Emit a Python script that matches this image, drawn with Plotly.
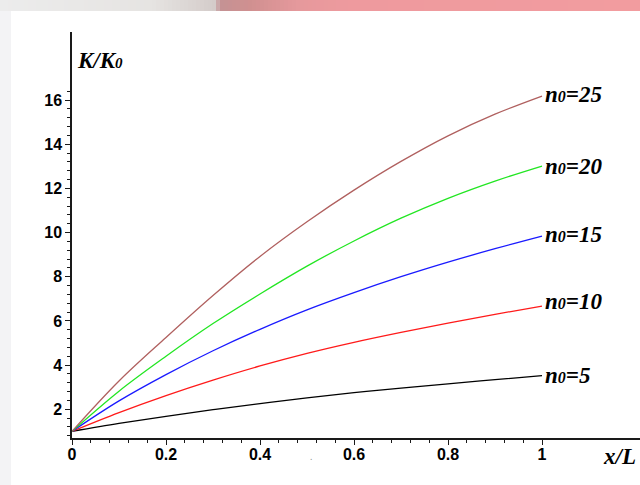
import plotly.graph_objects as go

# ---- data ----
x_frac = [0.0, 0.1, 0.2, 0.3, 0.4, 0.5, 0.6, 0.7, 0.8, 0.9, 1.0]
k_n5 = [1.0, 1.36, 1.68, 1.98, 2.26, 2.52, 2.75, 2.96, 3.15, 3.34, 3.52]
k_n10 = [1.0, 1.85, 2.62, 3.32, 3.96, 4.53, 5.03, 5.48, 5.90, 6.30, 6.67]
k_n15 = [1.0, 2.38, 3.57, 4.65, 5.62, 6.50, 7.28, 8.00, 8.66, 9.27, 9.84]
k_n20 = [1.0, 2.82, 4.40, 5.88, 7.22, 8.48, 9.62, 10.65, 11.55, 12.33, 13.01]
k_n25 = [1.0, 3.28, 5.25, 7.15, 8.92, 10.49, 11.92, 13.22, 14.38, 15.36, 16.18]

n0_values = ["5", "10", "15", "20", "25"]
label_y = [3.51, 6.90, 9.89, 12.98, 16.23]
colors = ["#000000", "#ff1a1a", "#1a1aff", "#22e622", "#b0605f"]
series = [k_n5, k_n10, k_n15, k_n20, k_n25]

x_ticks = [0, 0.2, 0.4, 0.6, 0.8, 1.0]
x_ticktext = ["0", "0.2", "0.4", "0.6", "0.8", "1"]
y_ticks = [2, 4, 6, 8, 10, 12, 14, 16]
y_ticktext = ["2", "4", "6", "8", "10", "12", "14", "16"]

# ---- layout geometry (pixels) ----
W, H = 640, 485
L, R, T, B = 72, 0, 32, 47
PW, PH = W - L - R, H - T - B
X_PX_PER_UNIT = 470.0
Y_PX_PER_UNIT = 22.09
x_max = PW / X_PX_PER_UNIT
y_min = 0.70
y_max = y_min + PH / Y_PX_PER_UNIT


def px_to_paper_x(px):
    return (px - L) / PW


def py_to_paper_y(py):
    return (H - B - py) / PH


SERIF = "Liberation Serif, Times New Roman, serif"

fig = go.Figure()
for n0, ys, col in zip(n0_values, series, colors):
    fig.add_trace(go.Scatter(x=x_frac, y=ys, mode="lines", name="n0=" + n0,
                             line=dict(color=col, width=1.3, shape="spline", smoothing=1.0),
                             showlegend=False, hoverinfo="skip"))

shapes = []
# top decorative band (gradient approximation)
stops = [(0, (236, 236, 236)), (150, (230, 228, 226)), (215, (212, 204, 202)),
         (220, (196, 146, 148)), (250, (208, 144, 144)), (300, (230, 153, 156)),
         (350, (238, 154, 158)), (640, (242, 156, 159))]


def col_at(px):
    for (a, ca), (b, cb) in zip(stops[:-1], stops[1:]):
        if a <= px <= b:
            t = (px - a) / (b - a) if b > a else 0
            return tuple(int(round(ca[i] + (cb[i] - ca[i]) * t)) for i in range(3))
    return stops[-1][1]


step = 4
for px in range(0, W, step):
    c = col_at(px + step / 2)
    shapes.append(dict(type="rect", xref="paper", yref="paper",
                       x0=px_to_paper_x(px), x1=px_to_paper_x(px + step + 0.5),
                       y0=py_to_paper_y(11), y1=py_to_paper_y(0),
                       fillcolor="rgb(%d,%d,%d)" % c, line=dict(width=0), layer="below"))
# left strip
shapes.append(dict(type="rect", xref="paper", yref="paper",
                   x0=px_to_paper_x(0), x1=px_to_paper_x(11),
                   y0=py_to_paper_y(H), y1=py_to_paper_y(11),
                   fillcolor="#f3f3f5", line=dict(width=0), layer="below"))

annotations = []
for n0, yv in zip(n0_values, label_y):
    txt = "<b><i>n<span style='font-size:16px'>0</span>=" + n0 + "</i></b>"
    annotations.append(dict(x=1.0, y=yv, xref="x", yref="y", text=txt,
                            showarrow=False, xanchor="left", yanchor="middle", xshift=1,
                            font=dict(family=SERIF, size=23, color="#000000")))
annotations.append(dict(x=px_to_paper_x(75), y=py_to_paper_y(60), xref="paper", yref="paper",
                        text="<b><i>K/K<span style='font-size:15px'>0</span></i></b>",
                        showarrow=False, xanchor="left", yanchor="middle",
                        font=dict(family=SERIF, size=23, color="#000000")))
annotations.append(dict(x=px_to_paper_x(601), y=py_to_paper_y(456), xref="paper", yref="paper",
                        text="<b><i>x/L</i></b>", showarrow=False,
                        xanchor="left", yanchor="middle",
                        font=dict(family=SERIF, size=23, color="#000000")))
annotations.append(dict(x=px_to_paper_x(311), y=py_to_paper_y(456), xref="paper", yref="paper",
                        text=".", showarrow=False, xanchor="center", yanchor="middle",
                        font=dict(size=9, color="#888888")))

tick_font = dict(family="Liberation Sans, Arial, sans-serif",
                 size=16, color="#000000", weight="bold")

x_minor = [round(0.04 * i, 2) for i in range(26) if i % 5 != 0]
y_minor = [round(0.8 + 0.4 * i, 1) for i in range(40) if (0.8 + 0.4 * i) <= 16.5]
y_minor = [v for v in y_minor if abs(v - round(v)) > 1e-6 or int(round(v)) % 2 == 1]

fig.update_layout(
    width=W, height=H,
    margin=dict(l=L, r=R, t=T, b=B, pad=0),
    paper_bgcolor="#ffffff", plot_bgcolor="rgba(0,0,0,0)",
    shapes=shapes, annotations=annotations,
    xaxis=dict(range=[0, x_max], showgrid=False, zeroline=False, showline=True,
               linecolor="#1a1a1a", linewidth=1.5, ticks="outside", ticklen=5,
               tickwidth=1.2, tickcolor="#1a1a1a", tickmode="array", tickvals=x_ticks,
               ticktext=["<b>" + t + "</b>" for t in x_ticktext], tickfont=tick_font,
               automargin=False, ticklabelstandoff=-4,
               minor=dict(tickmode="array", tickvals=x_minor, ticks="outside",
                          ticklen=3, tickcolor="#1a1a1a", tickwidth=1)),
    yaxis=dict(range=[y_min, y_max], showgrid=False, zeroline=False, showline=True,
               linecolor="#1a1a1a", linewidth=1.5, ticks="outside", ticklen=5,
               tickwidth=1.2, tickcolor="#1a1a1a", tickmode="array", tickvals=y_ticks,
               ticktext=["<b>" + t + "</b>" for t in y_ticktext], tickfont=tick_font,
               automargin=False,
               minor=dict(tickmode="array", tickvals=y_minor, ticks="outside",
                          ticklen=3, tickcolor="#1a1a1a", tickwidth=1)),
)

fig.write_html("out.html", config={"displayModeBar": False},
               post_script="document.body.style.margin='0px';document.body.style.overflow='hidden';")
